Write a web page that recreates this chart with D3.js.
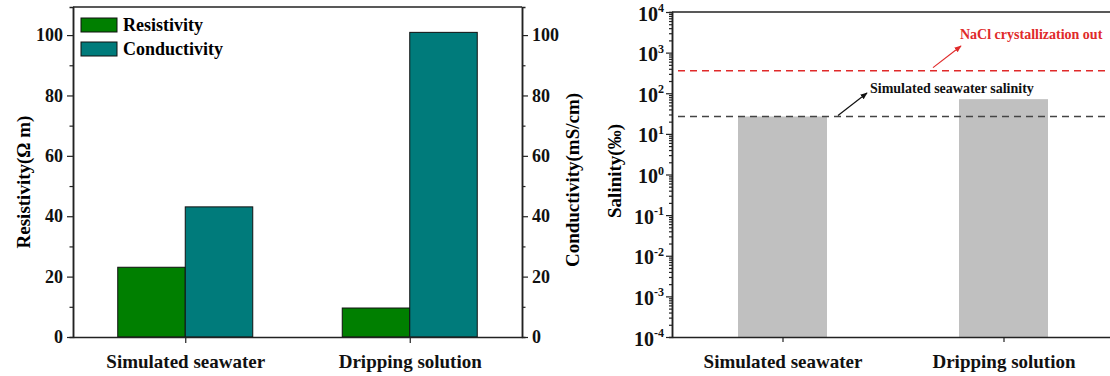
<!DOCTYPE html>
<html>
<head>
<meta charset="utf-8">
<script src="https://cdn.jsdelivr.net/npm/d3@7"></script>
<style>
  body { margin: 0; background: #fff; }
  svg { display: block; font-family: "Liberation Serif", "Times New Roman", serif; font-weight: bold; }
  svg text { font-family: "Liberation Serif", "Times New Roman", serif; font-weight: bold; }
</style>
</head>
<body>
<div id="container"></div>
<script>
// data
const categories = ["Simulated seawater", "Dripping solution"];
const seriesNames = ["Resistivity", "Conductivity"];
const resistivity = [23.1, 9.6];
const conductivity = [43.1, 100.9];
const salinity = [26.8, 71.5];
const refLines = [
  { name: "NaCl crystallization out", value: 360 },
  { name: "Simulated seawater salinity", value: 26.8 }
];
const linTicks = [0, 20, 40, 60, 80, 100];
const logTicks = [1e-4, 1e-3, 1e-2, 1e-1, 1e0, 1e1, 1e2, 1e3, 1e4];

const W = 1110, H = 376;
const svg = d3.select("#container").append("svg")
  .attr("width", W).attr("height", H);

// ---------- left chart ----------
const L = { left: 73, right: 522, top: 7, bottom: 337 };
const colors = { Resistivity: "#007f00", Conductivity: "#007b7b" };

const x1 = d3.scalePoint().domain(categories).range([L.left, L.right]).padding(0.5);
const xSub = d3.scaleBand().domain(seriesNames).range([-67.5, 67.5]);
const yRes = d3.scaleLinear().domain([0, 109.3]).range([L.bottom, L.top]);
const yCon = d3.scaleLinear().domain([0, 109.3]).range([L.bottom, L.top]);

const rows = categories.map((c, i) => ({ cat: c, Resistivity: resistivity[i], Conductivity: conductivity[i] }));

const g1 = svg.append("g");
rows.forEach(r => {
  seriesNames.forEach(s => {
    const sc = s === "Resistivity" ? yRes : yCon;
    g1.append("rect")
      .attr("x", x1(r.cat) + xSub(s))
      .attr("width", xSub.bandwidth())
      .attr("y", sc(r[s]))
      .attr("height", L.bottom - sc(r[s]))
      .attr("fill", colors[s])
      .attr("stroke", "#111")
      .attr("stroke-width", 1);
  });
});

// frame top
g1.append("line").attr("x1", L.left).attr("x2", L.right).attr("y1", L.top).attr("y2", L.top)
  .attr("stroke", "#222").attr("stroke-width", 1.5);

function styleAxis(g, size) {
  g.attr("font-family", null).attr("font-size", null);
  g.select(".domain").attr("stroke", "#222").attr("stroke-width", 1.5);
  g.selectAll(".tick line").attr("stroke", "#222").attr("stroke-width", 1.2);
  g.selectAll("text").attr("fill", "#111").style("font-size", size + "px");
}

// y left minor + major
const minorLin = d3.range(10, 110, 20);
svg.append("g").attr("transform", `translate(${L.left},0)`)
  .call(d3.axisLeft(yRes).tickValues(minorLin).tickSize(3.5).tickFormat(""))
  .call(g => styleAxis(g, 18));
svg.append("g").attr("transform", `translate(${L.left},0)`)
  .call(d3.axisLeft(yRes).tickValues(linTicks).tickSize(6).tickSizeOuter(0).tickPadding(4))
  .call(g => styleAxis(g, 18));

svg.append("g").attr("transform", `translate(${L.right},0)`)
  .call(d3.axisRight(yCon).tickValues(minorLin).tickSize(3.5).tickFormat(""))
  .call(g => styleAxis(g, 18));
svg.append("g").attr("transform", `translate(${L.right},0)`)
  .call(d3.axisRight(yCon).tickValues(linTicks).tickSize(6).tickSizeOuter(0).tickPadding(4))
  .call(g => styleAxis(g, 18));

svg.append("g").attr("transform", `translate(0,${L.bottom})`)
  .call(d3.axisBottom(x1).tickSize(6).tickSizeOuter(0).tickPadding(12))
  .call(g => styleAxis(g, 19));

svg.append("text").attr("transform", `translate(30,182) rotate(-90)`)
  .attr("text-anchor", "middle").style("font-size", "19px").text("Resistivity(Ω m)");
svg.append("text").attr("transform", `translate(579,180) rotate(-90)`)
  .attr("text-anchor", "middle").style("font-size", "19px").text("Conductivity(mS/cm)");

// legend
const leg = svg.append("g").attr("transform", `translate(81,18)`);
seriesNames.forEach((s, i) => {
  leg.append("rect").attr("x", 0).attr("y", i * 24).attr("width", 36).attr("height", 14)
    .attr("fill", colors[s]).attr("stroke", "#111").attr("stroke-width", 1);
  leg.append("text").attr("x", 42).attr("y", i * 24 + 13).style("font-size", "18px").text(s);
});

// ---------- right chart ----------
const R = { left: 672, right: 1114, top: 12, bottom: 337 };
const x2 = d3.scalePoint().domain(categories).range([R.left, R.right]).padding(0.5);
const y2 = d3.scaleLog().domain([1e-4, 1e4]).range([R.bottom, R.top]);
const bw = 89;

svg.append("g").selectAll("rect").data(categories).join("rect")
  .attr("x", d => x2(d) - bw / 2)
  .attr("width", bw)
  .attr("y", (d, i) => y2(salinity[i]))
  .attr("height", (d, i) => R.bottom - y2(salinity[i]))
  .attr("fill", "#c0c0c0");

svg.append("line").attr("x1", R.left).attr("x2", R.right).attr("y1", R.top).attr("y2", R.top)
  .attr("stroke", "#222").attr("stroke-width", 1.5);

const minorLog = y2.ticks().filter(v => !logTicks.some(t => Math.abs(t - v) / t < 1e-9));
svg.append("g").attr("transform", `translate(${R.left},0)`)
  .call(d3.axisLeft(y2).tickValues(minorLog).tickSize(3).tickFormat(""))
  .call(g => styleAxis(g, 19));
const yAx = svg.append("g").attr("transform", `translate(${R.left},0)`)
  .call(d3.axisLeft(y2).tickValues(logTicks).tickSize(6).tickSizeOuter(0).tickPadding(14))
  .call(g => styleAxis(g, 20));
yAx.selectAll(".tick text").each(function (d) {
  const t = d3.select(this);
  const e = Math.round(Math.log10(d));
  t.text("10").attr("dy", "0.4em");
  t.append("tspan").attr("dy", "-0.7em").style("font-size", "12px").text(e);
});
yAx.selectAll(".tick text").attr("x", -8);

svg.append("g").attr("transform", `translate(0,${R.bottom})`)
  .call(d3.axisBottom(x2).tickSize(5).tickSizeOuter(0).tickPadding(13))
  .call(g => styleAxis(g, 19));

svg.append("text").attr("transform", `translate(621,171) rotate(-90)`)
  .attr("text-anchor", "middle").style("font-size", "19px").text("Salinity(‰)");

// reference lines
const refColors = ["#e02a2a", "#444"];
refLines.forEach((r, i) => {
  svg.append("line").attr("x1", 678).attr("x2", R.right)
    .attr("y1", y2(r.value)).attr("y2", y2(r.value))
    .attr("stroke", refColors[i]).attr("stroke-width", 1.5).attr("stroke-dasharray", "7,5");
});

// annotations with arrows
const defs = svg.append("defs");
["red", "blk"].forEach((id, i) => {
  defs.append("marker").attr("id", "arr-" + id).attr("viewBox", "0 0 10 10")
    .attr("refX", 9).attr("refY", 5).attr("markerWidth", 6).attr("markerHeight", 6)
    .attr("orient", "auto")
    .append("path").attr("d", "M0,1 L10,5 L0,9 Z").attr("fill", i === 0 ? "#e02a2a" : "#111");
});
svg.append("line").attr("x1", 933).attr("y1", y2(refLines[0].value) - 3)
  .attr("x2", 961).attr("y2", 46).attr("stroke", "#e02a2a").attr("stroke-width", 1.2)
  .attr("marker-end", "url(#arr-red)");
svg.append("text").attr("x", 960).attr("y", 39).attr("fill", "#e02a2a")
  .style("font-size", "14px").text(refLines[0].name);

svg.append("line").attr("x1", 838).attr("y1", y2(refLines[1].value) - 1)
  .attr("x2", 867).attr("y2", 93).attr("stroke", "#111").attr("stroke-width", 1.2)
  .attr("marker-end", "url(#arr-blk)");
svg.append("text").attr("x", 870).attr("y", 93).attr("fill", "#111")
  .style("font-size", "14px").text(refLines[1].name);
</script>
</body>
</html>
